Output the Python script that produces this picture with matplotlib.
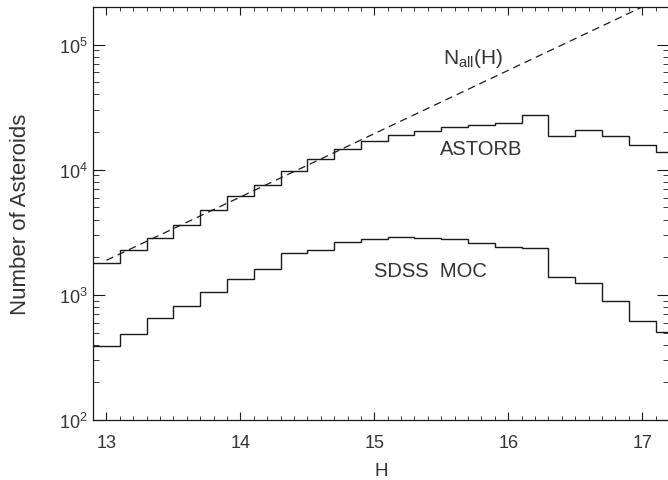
import matplotlib
matplotlib.use("Agg")
import matplotlib.pyplot as plt
from matplotlib.ticker import LogLocator, MultipleLocator, NullFormatter, LogFormatterSciNotation

# ---- data ----
bin_edges = [12.9, 13.1, 13.3, 13.5, 13.7, 13.9, 14.1, 14.3, 14.5, 14.7, 14.9,
             15.1, 15.3, 15.5, 15.7, 15.9, 16.1, 16.3, 16.5, 16.7, 16.9, 17.1, 17.3]
astorb = [1790, 2275, 2830, 3650, 4740, 6140, 7510, 9710, 12100, 14600, 16900,
          18900, 20600, 22100, 22900, 23500, 27500, 18500, 20700, 18600, 15900, 13800]
sdss_moc = [387, 483, 656, 817, 1045, 1352, 1625, 2153, 2287, 2670, 2820,
            2900, 2870, 2820, 2600, 2415, 2390, 1378, 1240, 891, 617, 501]
nall_H = [13.0, 17.0]
nall_N = [1890, 2.0e5]

plt.rcParams['font.family'] = ['Liberation Sans', 'DejaVu Sans']
plt.rcParams['mathtext.fontset'] = 'custom'
plt.rcParams['mathtext.rm'] = 'Liberation Sans'
plt.rcParams['mathtext.it'] = 'Liberation Sans'

W, H = 668, 481
fig = plt.figure(figsize=(W / 100, H / 100), dpi=100)
ax = fig.add_axes([93 / W, (H - 421) / H, (669 - 93) / W, (421 - 8) / H])

lc = '#1a1a1a'
ax.stairs(astorb, bin_edges, color=lc, lw=1.0, baseline=None)
ax.stairs(sdss_moc, bin_edges, color=lc, lw=1.0, baseline=None)
ax.plot(nall_H, nall_N, color=lc, lw=0.9, dashes=(6, 4))

ax.set_yscale('log')
ax.set_xlim(12.9, 17.2)
ax.set_ylim(100, 2.0e5)

ax.xaxis.set_major_locator(MultipleLocator(1))
ax.xaxis.set_minor_locator(MultipleLocator(0.1))
ax.yaxis.set_major_locator(LogLocator(base=10, numticks=10))
ax.yaxis.set_minor_locator(LogLocator(base=10, subs=range(2, 10), numticks=20))
ax.yaxis.set_major_formatter(LogFormatterSciNotation())
ax.yaxis.set_minor_formatter(NullFormatter())

tc = '#333333'
ax.tick_params(axis='x', which='major', direction='in', length=6, width=0.8,
               top=True, pad=10, labelsize=13, colors=lc, labelcolor=tc)
ax.tick_params(axis='x', which='minor', direction='in', length=3, width=0.6, top=True, colors=lc)
ax.tick_params(axis='y', which='major', direction='in', length=8.5, width=0.8,
               right=True, pad=4, labelsize=13, colors=lc, labelcolor=tc)
ax.tick_params(axis='y', which='minor', direction='in', length=4.3, width=0.6, right=True, colors=lc)
for s in ax.spines.values():
    s.set_linewidth(0.9)
    s.set_color(lc)

ax.set_xlabel('H', fontsize=13.5, color=tc, labelpad=8)
ax.set_ylabel('Number of Asteroids', fontsize=16, color=tc, labelpad=20)

ax.text(15.74, 7.9e4, r'N$_{\rm all}$(H)', fontsize=15, color=tc, ha='center', va='center')
ax.text(15.80, 1.48e4, 'ASTORB', fontsize=14.5, color=tc, ha='center', va='center')
ax.text(15.42, 1.556e3, 'SDSS  MOC', fontsize=14.5, color=tc, ha='center', va='center')

fig.savefig('out.png', dpi=100)
